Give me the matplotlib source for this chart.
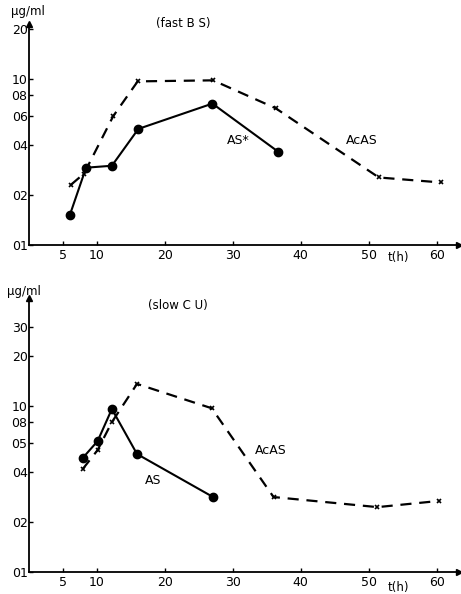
import numpy as np
import matplotlib
matplotlib.use("Agg")
import matplotlib.pyplot as plt

# top panel (fast B S)
t_as_fast = [6.0, 8.4, 12.2, 16.1, 27.0, 36.7]
c_as_fast = [0.151, 0.292, 0.30, 0.50, 0.71, 0.364]
t_acas_fast = [6.2, 8.1, 12.4, 16.0, 27.1, 36.3, 51.5, 60.6]
c_acas_fast = [0.231, 0.269, 0.597, 0.966, 0.98, 0.666, 0.255, 0.238]

# bottom panel (slow C U)
t_as_slow = [7.9, 10.1, 12.2, 15.9, 27.1]
c_as_slow = [0.486, 0.615, 0.96, 0.514, 0.283]
t_acas_slow = [7.9, 10.1, 12.2, 15.9, 26.9, 36.0, 51.3, 60.3]
c_acas_slow = [0.417, 0.543, 0.80, 1.36, 0.97, 0.283, 0.246, 0.268]

x_ticks = [5, 10, 20, 30, 40, 50, 60]
y_ticks_top = [2.0, 1.0, 0.8, 0.6, 0.4, 0.2, 0.1]
y_labels_top = ["20", "10", "08", "06", "04", "02", "01"]
y_ticks_bot = [3.0, 2.0, 1.0, 0.8, 0.6, 0.4, 0.2, 0.1]
y_labels_bot = ["30", "20", "10", "08", "05", "04", "02", "01"]

W, H = 461, 594
fig = plt.figure(figsize=(W / 100, H / 100), dpi=100)
plt.rcParams['font.family'] = ['DejaVu Sans']


def px_axes(x0, x1, ytop, ybot):
    return fig.add_axes([x0 / W, 1 - ybot / H, (x1 - x0) / W, (ybot - ytop) / H])


def setup(ax, ymax, yt, yl):
    ax.set_yscale("log")
    ax.set_xlim(0, 63.3)
    ax.set_ylim(0.1, ymax)
    for s in ["top", "right"]:
        ax.spines[s].set_visible(False)
    for s in ["left", "bottom"]:
        ax.spines[s].set_linewidth(1.3)
    ax.set_xticks(x_ticks)
    ax.set_xticklabels([str(v) for v in x_ticks], fontsize=9)
    ax.set_yticks(yt)
    ax.set_yticklabels(yl, fontsize=9)
    ax.minorticks_off()
    ax.tick_params(axis="both", direction="in", length=3, width=1)
    ax.tick_params(axis="y", pad=1)
    ax.tick_params(axis="x", pad=3)
    # arrow heads
    ax.plot(1, 0, ">k", ms=4, transform=ax.transAxes, clip_on=False)
    ax.plot(0, 1, "^k", ms=4, transform=ax.transAxes, clip_on=False)
    ax.text(54.4, -0.055, "t(h)", transform=ax.get_xaxis_transform(),
            fontsize=8.5, ha="center", va="center")


ax1 = px_axes(29, 459, 24, 245)
setup(ax1, 2.14, y_ticks_top, y_labels_top)
ax1.plot(t_as_fast, c_as_fast, "-", color="black", lw=1.5,
         marker="o", ms=6, clip_on=False)
ax1.plot(t_acas_fast, c_acas_fast, "--", color="black", lw=1.6,
         dashes=(5, 3.5), marker="x", ms=3.5, mew=1.2, clip_on=False)
fig.text(28 / W, 1 - 12 / H, "\u00b5g/ml", fontsize=8.5, ha="center", va="center")
fig.text(183 / W, 1 - 24 / H, "(fast B S)", fontsize=8.5, ha="center", va="center")
fig.text(238 / W, 1 - 140 / H, "AS*", fontsize=9, ha="center", va="center")
fig.text(362 / W, 1 - 140 / H, "AcAS", fontsize=9, ha="center", va="center")

ax2 = px_axes(29, 459, 298, 572)
setup(ax2, 4.48, y_ticks_bot, y_labels_bot)
ax2.plot(t_as_slow, c_as_slow, "-", color="black", lw=1.5,
         marker="o", ms=6, clip_on=False)
ax2.plot(t_acas_slow, c_acas_slow, "--", color="black", lw=1.6,
         dashes=(5, 3.5), marker="x", ms=3.5, mew=1.2, clip_on=False)
fig.text(24 / W, 1 - 292 / H, "\u00b5g/ml", fontsize=8.5, ha="center", va="center")
fig.text(178 / W, 1 - 305 / H, "(slow C U)", fontsize=8.5, ha="center", va="center")
fig.text(153 / W, 1 - 480 / H, "AS", fontsize=9, ha="center", va="center")
fig.text(271 / W, 1 - 450 / H, "AcAS", fontsize=9, ha="center", va="center")

fig.savefig("out.png", dpi=100)
